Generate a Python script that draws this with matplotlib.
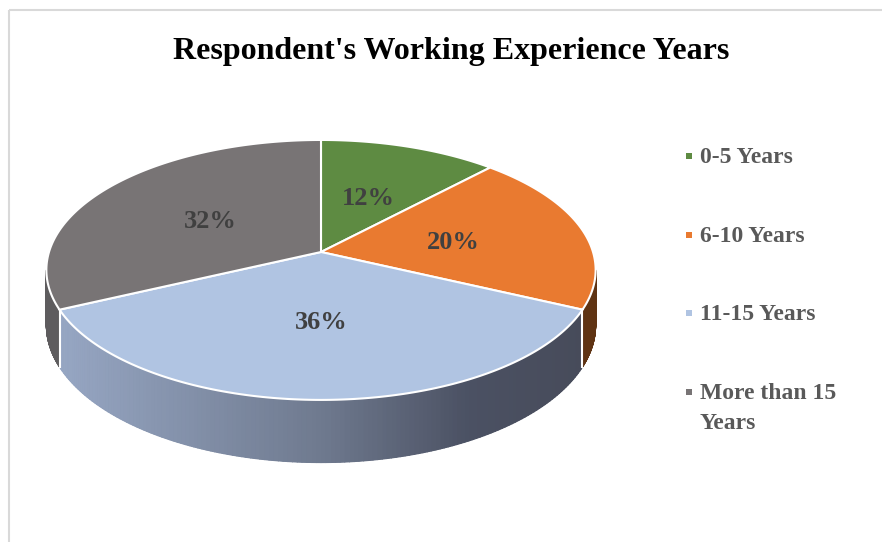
import numpy as np
import matplotlib.pyplot as plt
from matplotlib.patches import Polygon, Rectangle
import matplotlib.colors as mcolors

plt.rcParams['font.family'] = ['Liberation Serif', 'DejaVu Serif']

categories = ['0-5 Years', '6-10 Years', '11-15 Years', 'More than 15\nYears']
shares = [12, 20, 36, 32]
pct_labels = ['12%', '20%', '36%', '32%']
top_colors = ['#5E8B42', '#E97A30', '#B0C4E2', '#787475']
side_colors = ['#3F5E2C', '#5F3313', None, '#5E5C5E']
# gradient for the light blue side, left to right
blue_side = mcolors.LinearSegmentedColormap.from_list(
    'side', [(0, '#97A7C4'), (0.5, '#6F7A8F'), (0.78, '#4B5163'), (1, '#474B5A')])

# perspective of the pie, in pixel units
cx, cy = 321, 252
f, g, k, T = 272, 127.5, 0.138, 54


def proj(phi, r=1.0, depth=0.0):
    # phi clockwise from 12 o'clock
    u = r * np.sin(phi)
    v = -r * np.cos(phi)
    d = 1 - k * v
    return cx + f * u / d, cy + g * v / d + depth * T / d


fig = plt.figure(figsize=(8.82, 5.42), dpi=100)
ax = fig.add_axes([0, 0, 1, 1])
ax.set_xlim(0, 882)
ax.set_ylim(542, 0)
ax.axis('off')

# chart border
ax.add_patch(Rectangle((8.5, 9.5), 900, 600, fill=False, ec='#D9D9D9', lw=1.5))

bounds = np.radians(np.concatenate([[0], np.cumsum(shares)]) * 3.6)
lo, hi = np.pi - np.arccos(k), np.pi + np.arccos(k)

# side walls
for i in range(len(shares)):
    a, b = max(bounds[i], lo), min(bounds[i + 1], hi)
    if a >= b:
        continue
    ph = np.linspace(a, b, 151)
    tx, ty = proj(ph)
    bx, by = proj(ph[::-1], depth=1)
    back = side_colors[i] if side_colors[i] else '#5E677A'
    ax.add_patch(Polygon(list(zip(tx, ty)) + list(zip(bx, by)), closed=True,
                         fc=back, ec='none'))
    for p1, p2 in zip(ph[:-1], ph[1:]):
        x1, y1 = proj(p1)
        x2, y2 = proj(p2)
        x3, y3 = proj(p2, depth=1)
        x4, y4 = proj(p1, depth=1)
        if side_colors[i] is None:
            c = blue_side(np.clip(((x1 + x2) / 2 - 55) / 530, 0, 1))
        else:
            c = side_colors[i]
        ax.add_patch(Polygon([(x1, y1), (x2, y2), (x3, y3), (x4, y4)],
                             closed=True, fc=c, ec=c, lw=0.8, joinstyle='round'))

# white edges on the side at slice borders
for b in bounds:
    if lo < b < hi:
        x0, y0 = proj(b)
        x1, y1 = proj(b, depth=1)
        ax.plot([x0, x1], [y0, y1], color='white', lw=1.5)

# top faces
for i in range(len(shares)):
    ph = np.linspace(bounds[i], bounds[i + 1], 200)
    xs, ys = proj(ph)
    pts = [(cx, cy)] + list(zip(xs, ys))
    ax.add_patch(Polygon(pts, closed=True, fc=top_colors[i], ec='white', lw=1.5))
    mx, my = proj((bounds[i] + bounds[i + 1]) / 2, r=0.5)
    ax.text(mx, my + 2, pct_labels[i], ha='center', va='center', fontsize=19,
            fontweight='bold', color='#404040')

ax.text(451, 51, "Respondent's Working Experience Years", ha='center', va='center',
        fontsize=23, fontweight='bold', color='black')

# legend
leg_y = [156, 235, 313, 392]
for i, name in enumerate(categories):
    ax.plot(689, leg_y[i], marker='s', ms=4.8, color=top_colors[i], mew=0)
    ax.text(700, leg_y[i] - 9, name, ha='left', va='top', fontsize=17,
            fontweight='bold', color='#595959', linespacing=1.55)

fig.savefig('out.png', dpi=100)
